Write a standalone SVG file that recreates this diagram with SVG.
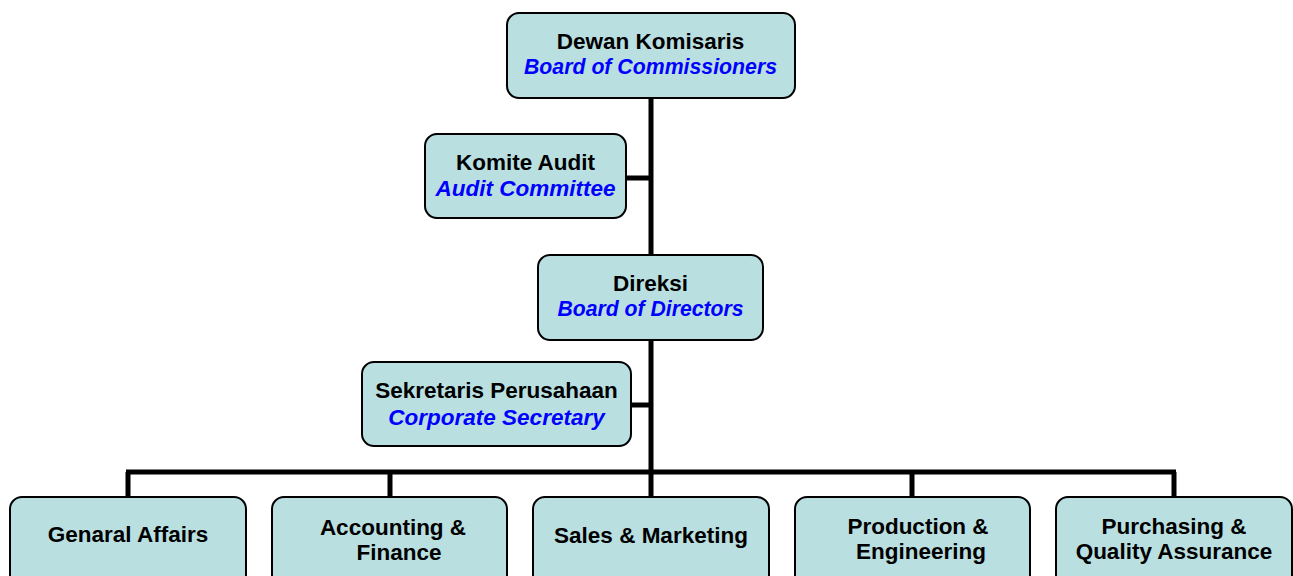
<svg xmlns="http://www.w3.org/2000/svg" width="1293" height="576" viewBox="0 0 1293 576">
<style>
.box{fill:#b9dfe1;stroke:#000;stroke-width:2}
.t{font-family:"Liberation Sans",Arial,sans-serif;font-size:22.5px;font-weight:bold;text-anchor:middle;fill:#000}
.e{font-family:"Liberation Sans",Arial,sans-serif;font-size:22.5px;font-weight:bold;font-style:italic;text-anchor:middle;fill:#0000ff}
.c{stroke:#000;stroke-width:5;fill:none}
</style>
<rect width="1293" height="576" fill="#fff"/>
<g id="connectors">
<line class="c" x1="651" y1="98" x2="651" y2="472"/>
<line class="c" x1="626" y1="178" x2="651" y2="178"/>
<line class="c" x1="631" y1="405" x2="651" y2="405"/>
<line class="c" x1="126" y1="472" x2="1176" y2="472"/>
<line class="c" x1="128" y1="472" x2="128" y2="497"/>
<line class="c" x1="390" y1="472" x2="390" y2="497"/>
<line class="c" x1="651" y1="472" x2="651" y2="497"/>
<line class="c" x1="912" y1="472" x2="912" y2="497"/>
<line class="c" x1="1174" y1="472" x2="1174" y2="497"/>
</g>
<g id="dewan">
<rect class="box" x="507" y="13" width="288" height="85" rx="12"/>
<text class="t" x="650.5" y="49">Dewan Komisaris</text>
<text class="e" x="650.5" y="74" textLength="253" lengthAdjust="spacingAndGlyphs">Board of Commissioners</text>
</g>
<g id="audit">
<rect class="box" x="425" y="134" width="201" height="84" rx="12"/>
<text class="t" x="525.5" y="170">Komite Audit</text>
<text class="e" x="525.5" y="196">Audit Committee</text>
</g>
<g id="direksi">
<rect class="box" x="538" y="255" width="225" height="85" rx="12"/>
<text class="t" x="650.5" y="291">Direksi</text>
<text class="e" x="650.5" y="316" textLength="186" lengthAdjust="spacingAndGlyphs">Board of Directors</text>
</g>
<g id="sekretaris">
<rect class="box" x="362" y="362" width="269" height="84" rx="12"/>
<text class="t" x="496.5" y="398">Sekretaris Perusahaan</text>
<text class="e" x="496.5" y="425">Corporate Secretary</text>
</g>
<g id="general">
<rect class="box" x="10" y="497" width="236" height="90" rx="12"/>
<text class="t" x="128" y="542">Genaral Affairs</text>
</g>
<g id="accounting">
<rect class="box" x="272" y="497" width="235" height="90" rx="12"/>
<text class="t" x="393" y="535">Accounting &amp;</text>
<text class="t" x="399" y="560">Finance</text>
</g>
<g id="sales">
<rect class="box" x="533" y="497" width="236" height="90" rx="12"/>
<text class="t" x="651" y="543">Sales &amp; Marketing</text>
</g>
<g id="production">
<rect class="box" x="795" y="497" width="235" height="90" rx="12"/>
<text class="t" x="918" y="534">Production &amp;</text>
<text class="t" x="921" y="559">Engineering</text>
</g>
<g id="purchasing">
<rect class="box" x="1056" y="497" width="236" height="90" rx="12"/>
<text class="t" x="1174" y="534">Purchasing &amp;</text>
<text class="t" x="1174" y="559">Quality Assurance</text>
</g>
</svg>
